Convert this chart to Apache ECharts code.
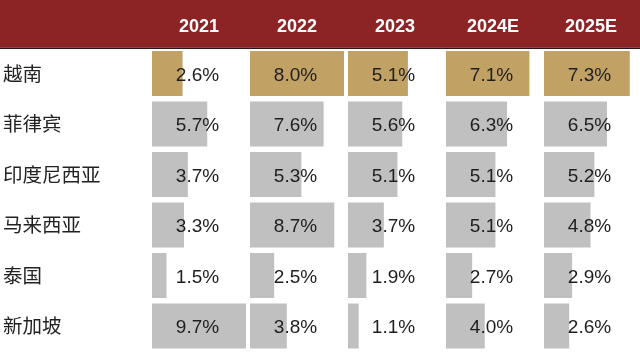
<!DOCTYPE html>
<html>
<head>
<meta charset="utf-8">
<script src="https://cdn.jsdelivr.net/npm/echarts@6/dist/echarts.min.js"></script>
<style>
html,body{margin:0;padding:0;background:#fff;}
#chart{width:640px;height:359px;}
</style>
</head>
<body>
<div id="chart"></div>
<script>
const countries = ['越南', '菲律宾', '印度尼西亚', '马来西亚', '泰国', '新加坡'];
const years = ['2021', '2022', '2023', '2024E', '2025E'];
const vietnam = [2.6, 8.0, 5.1, 7.1, 7.3];
const philippines = [5.7, 7.6, 5.6, 6.3, 6.5];
const indonesia = [3.7, 5.3, 5.1, 5.1, 5.2];
const malaysia = [3.3, 8.7, 3.7, 5.1, 4.8];
const thailand = [1.5, 2.5, 1.9, 2.7, 2.9];
const singapore = [9.7, 3.8, 1.1, 4.0, 2.6];

const others = [philippines, indonesia, malaysia, thailand, singapore];
const goldMax = Math.max(...vietnam);
const grayMax = Math.max(...others.flat());

const colLeft = 152, colPitch = 98, colWidth = 94;
const gridTop = 48.25, gridHeight = 303;

const grid = [], xAxis = [], yAxis = [], series = [];
const valueLabel = {
  show: true,
  position: [colWidth / 2 - 1.5, '50%'],
  offset: [0, 2],
  align: 'center',
  verticalAlign: 'middle',
  color: '#1e1e1e',
  fontSize: 19,
  fontFamily: '"Liberation Sans", Arial, sans-serif',
  formatter: p => p.value.toFixed(1) + '%'
};
years.forEach((yr, i) => {
  grid.push({ left: colLeft + colPitch * i, top: gridTop, width: colWidth, height: gridHeight });
  xAxis.push({
    type: 'value', gridIndex: i, min: 0, max: goldMax, position: 'top',
    name: yr, nameLocation: 'middle', nameGap: 12,
    nameTextStyle: { color: '#ffffff', fontSize: 18, fontWeight: 'bold', fontFamily: '"Liberation Sans", Arial, sans-serif' },
    axisLine: { show: false }, axisTick: { show: false }, axisLabel: { show: false }, splitLine: { show: false }
  });
  xAxis.push({
    type: 'value', gridIndex: i, min: 0, max: grayMax, position: 'bottom', show: false,
    axisLine: { show: false }, axisTick: { show: false }, axisLabel: { show: false }, splitLine: { show: false }
  });
  yAxis.push({
    type: 'category', gridIndex: i, data: countries, inverse: true,
    axisLine: { show: false }, axisTick: { show: false },
    axisLabel: {
      show: i === 0, align: 'left', margin: colLeft - 3, padding: [4, 0, 0, 0],
      color: '#222', fontSize: 19.5, fontFamily: '"Noto Sans CJK SC", sans-serif'
    },
    splitLine: { show: false }
  });
  series.push({
    type: 'bar', xAxisIndex: 2 * i, yAxisIndex: i,
    data: countries.map((c, r) => r === 0 ? vietnam[i] : '-'),
    barWidth: 45, barGap: '-100%',
    itemStyle: { color: '#C1A264' },
    label: valueLabel, silent: true
  });
  series.push({
    type: 'bar', xAxisIndex: 2 * i + 1, yAxisIndex: i,
    data: countries.map((c, r) => r === 0 ? '-' : others[r - 1][i]),
    barWidth: 45, barGap: '-100%',
    itemStyle: { color: '#C0C0C0' },
    label: valueLabel, silent: true
  });
});

const chart = echarts.init(document.getElementById('chart'), null, { renderer: 'canvas' });
chart.setOption({
  animation: false,
  backgroundColor: '#ffffff',
  graphic: [
    { type: 'rect', left: 0, top: 0, z: -1, shape: { width: 640, height: 47.5 }, style: { fill: '#8C2426' } },
    { type: 'rect', left: 0, top: 47.5, z: -1, shape: { width: 640, height: 1.5 }, style: { fill: '#2b1414' } }
  ],
  grid, xAxis, yAxis, series
});
</script>
</body>
</html>
